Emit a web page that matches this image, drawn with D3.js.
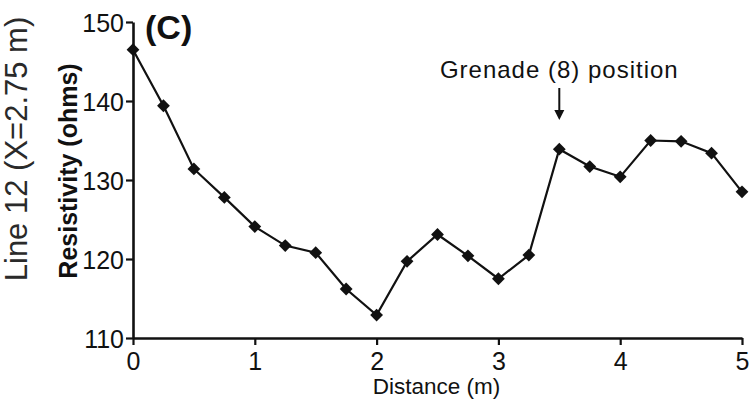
<!DOCTYPE html>
<html>
<head>
<meta charset="utf-8">
<script src="https://cdn.jsdelivr.net/npm/d3@7"></script>
<style>
  html, body { margin: 0; padding: 0; background: #fff; }
  svg { display: block; font-family: "Liberation Sans", Arial, sans-serif; }
</style>
</head>
<body>
<svg id="chart" width="755" height="402"></svg>
<script>
// Resistivity profile along Line 12
const distances = [0, 0.25, 0.5, 0.75, 1, 1.25, 1.5, 1.75, 2, 2.25, 2.5, 2.75, 3, 3.25, 3.5, 3.75, 4, 4.25, 4.5, 4.75, 5];
const resistivity = [146.5, 139.4, 131.4, 127.8, 124.1, 121.7, 120.8, 116.2, 112.9, 119.7, 123.1, 120.4, 117.5, 120.5, 133.9, 131.7, 130.4, 135.0, 134.9, 133.4, 128.5];
const xTicks = [0, 1, 2, 3, 4, 5];
const yTicks = [110, 120, 130, 140, 150];
const grenadeDistance = 3.5;
const grenadeLabel = "Grenade (8) position";

const svg = d3.select("#chart");
const ink = "#111";

const x = d3.scaleLinear().domain([0, 5]).range([133, 742]);
const y = d3.scaleLinear().domain([110, 150]).range([338, 22]);

// Axes
const xAxis = svg.append("g")
  .attr("transform", `translate(0,${y(110)})`)
  .call(d3.axisBottom(x).tickValues(xTicks).tickFormat(d3.format("d"))
    .tickSize(7).tickSizeOuter(0).tickPadding(7));
const yAxis = svg.append("g")
  .attr("transform", `translate(${x(0)},0)`)
  .call(d3.axisLeft(y).tickValues(yTicks).tickFormat(d3.format("d"))
    .tickSize(7).tickSizeOuter(0).tickPadding(2));

[xAxis, yAxis].forEach(g => {
  g.select(".domain").attr("stroke", ink).attr("stroke-width", 2.6);
  g.selectAll(".tick line").attr("stroke", ink).attr("stroke-width", 2.2);
  g.selectAll(".tick text").attr("fill", ink).style("font-size", "25px")
    .style("font-family", "'Liberation Sans', Arial, sans-serif");
});
yAxis.selectAll(".tick text").attr("dy", "0.36em");
xAxis.selectAll(".tick text").attr("dy", "0.71em");

// Axis titles
svg.append("text")
  .attr("x", (x(0) + x(5)) / 2 - 1).attr("y", 394)
  .attr("text-anchor", "middle").attr("fill", ink)
  .style("font-size", "22.5px").text("Distance (m)");

svg.append("text")
  .attr("transform", `translate(77,171) rotate(-90)`)
  .attr("text-anchor", "middle").attr("fill", ink)
  .style("font-size", "25px").style("font-weight", "bold")
  .text("Resistivity (ohms)");

svg.append("text")
  .attr("transform", `translate(27,149) rotate(-90)`)
  .attr("text-anchor", "middle").attr("fill", "#2a2a2a")
  .style("font-size", "31px")
  .text("Line 12 (X=2.75 m)");

// Panel letter
svg.append("text")
  .attr("x", 145).attr("y", 39).attr("fill", ink)
  .style("font-size", "34px").style("font-weight", "bold")
  .text("(C)");

// Profile line and markers
const data = distances.map((d, i) => ({ d, r: resistivity[i] }));
svg.append("path")
  .datum(data)
  .attr("fill", "none").attr("stroke", ink).attr("stroke-width", 2.2)
  .attr("d", d3.line().x(p => x(p.d)).y(p => y(p.r)));

svg.append("g").selectAll("path")
  .data(data).join("path")
  .attr("transform", p => `translate(${x(p.d)},${y(p.r)}) rotate(45)`)
  .attr("d", d3.symbol().type(d3.symbolSquare).size(82))
  .attr("fill", ink);

// Grenade annotation
const gx = x(grenadeDistance);
svg.append("text")
  .attr("x", gx).attr("y", 78)
  .attr("text-anchor", "middle").attr("fill", ink)
  .style("font-size", "24px").style("letter-spacing", "1px")
  .text(grenadeLabel);
svg.append("line")
  .attr("x1", gx).attr("x2", gx).attr("y1", 88).attr("y2", 112)
  .attr("stroke", ink).attr("stroke-width", 2);
svg.append("path")
  .attr("d", `M${gx - 5},110 L${gx + 5},110 L${gx},120 Z`)
  .attr("fill", ink);
</script>
</body>
</html>
